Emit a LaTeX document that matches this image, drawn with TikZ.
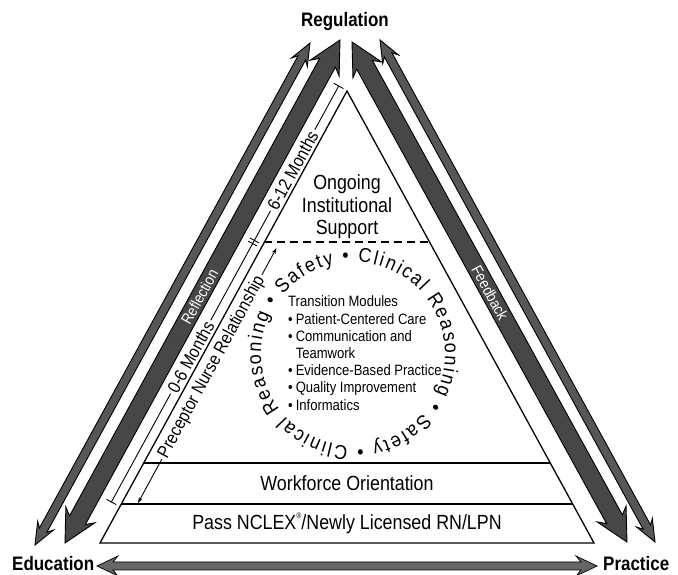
\documentclass[tikz,border=0pt]{standalone}
\usepackage{fontspec}
\setmainfont{Liberation Sans}[FakeStretch=0.87]
\newfontfamily\circfont{Liberation Sans}[FakeStretch=0.9]
\usetikzlibrary{calc,arrows.meta}
% double-headed block arrow: #1 tip, #2 tip, #3 shaft half width, #4 head half width, #5 head length, #6 joint distance, #7 style
\newcommand\DblArrow[7]{%
  \draw[#7] (#1)
    -- ($(#1)!#5!(#2)!#4!90:(#2)$)
    -- ($(#1)!#6!(#2)!#3!90:(#2)$)
    -- ($(#2)!#6!(#1)!#3!-90:(#1)$)
    -- ($(#2)!#5!(#1)!#4!-90:(#1)$)
    -- (#2)
    -- ($(#2)!#5!(#1)!#4!90:(#1)$)
    -- ($(#2)!#6!(#1)!#3!90:(#1)$)
    -- ($(#1)!#6!(#2)!#3!-90:(#2)$)
    -- ($(#1)!#5!(#2)!#4!-90:(#2)$)
    -- cycle;}
\tikzset{
  tri/.style={line width=1.3pt},
  dashline/.style={line width=1.5pt, dash pattern=on 8pt off 5pt},
  thickarr/.style={fill=black!72, draw=black, line width=0.9pt, line join=miter},
  thinarr/.style={fill=black!66, draw=black, line width=0.9pt, line join=miter},
  basearr/.style={fill=black!60, draw=black, line width=0.7pt, line join=miter},
  lbl/.style={font=\bfseries\fontsize{19.5}{20}\selectfont, inner sep=0pt},
  band/.style={font=\fontsize{20.5}{22.5}\selectfont, inner sep=0pt, align=center},
  meas/.style={line width=0.9pt},
  meastext/.style={font=\fontsize{18}{19}\selectfont, inner sep=2.5pt, sloped},
  armtext/.style={font=\fontsize{15.5}{16}\selectfont, text=white, sloped, inner sep=0pt},
  circchar/.style={font=\circfont\fontsize{20}{20}\selectfont, anchor=base, inner sep=0pt},
  listtext/.style={font=\fontsize{15}{17.2}\selectfont, inner sep=0pt, anchor=west},
}
\begin{document}
\begin{tikzpicture}[x=1pt,y=1pt]
\useasboundingbox (0,0) rectangle (678,575);
% key points
\coordinate (A) at (347,484);
\coordinate (BL) at (100,32);
\coordinate (BR) at (594,32);
\coordinate (LT1) at (35,30);   \coordinate (LT2) at (310,532);
\coordinate (LK1) at (65,32);   \coordinate (LK2) at (340,535);
\coordinate (RK1) at (352,533); \coordinate (RK2) at (627,33);
\coordinate (RT1) at (380,535); \coordinate (RT2) at (655,33);
\coordinate (B1) at (97,9);     \coordinate (B2) at (597,9);
\coordinate (M0) at (111.4,73); \coordinate (Mk) at (253.5,333); \coordinate (Mt) at (338.7,489);
\coordinate (P0) at (138,72);   \coordinate (P1) at (276.5,327);
\coordinate (cc) at (353,221);
% triangle and levels
\draw[tri] (A) -- (BR) -- (BL) -- cycle;
\draw[tri] ($(BL)!0.177!(A)$) -- ($(BR)!0.177!(A)$);
\draw[tri] ($(BL)!0.0863!(A)$) -- ($(BR)!0.0863!(A)$);
\draw[dashline] ($(BL)!0.6659!(A)$) -- ($(BR)!0.6659!(A)$);
% level texts
\node[band] (ois) at (347,368) {Ongoing\\Institutional\\Support};
\node[band, anchor=base] (wo) at (347,84) {Workforce Orientation};
\node[band, anchor=base] (nc) at (347,45) {Pass NCLEX\raisebox{0.55em}{\fontsize{8}{8}\selectfont ®}/Newly Licensed RN/LPN};
% transition modules
\node[listtext] (tm) at (288,220) {\begin{tabular}{@{}l@{\hspace{3pt}}l@{}}
\multicolumn{2}{@{}l@{}}{Transition Modules}\\
•&Patient-Centered Care\\
•&Communication and\\
&Teamwork\\
•&Evidence-Based Practice\\
•&Quality Improvement\\
•&Informatics
\end{tabular}};
% months scale
\path (M0) -- (Mk) node[meastext, pos=0.558] (m06) {0-6 Months};
\path (Mk) -- (Mt) node[meastext, pos=0.46] (m612) {6-12 Months};
\draw[meas] (M0) -- (m06.west);
\draw[meas] (m06.east) -- (Mk) -- (m612.west);
\draw[meas] (m612.east) -- (Mt);
\draw[meas] ($(M0)!5.5pt!90:(Mt)$) -- ($(M0)!5.5pt!-90:(Mt)$);
\draw[meas] ($(Mt)!5.5pt!90:(M0)$) -- ($(Mt)!5.5pt!-90:(M0)$);
\coordinate (Mka) at ($(Mk)!1.8pt!(Mt)$);
\coordinate (Mkb) at ($(Mk)!1.8pt!(M0)$);
\draw[meas] ($(Mka)!5pt!90:(Mt)$) -- ($(Mka)!5pt!-90:(Mt)$);
\draw[meas] ($(Mkb)!5pt!90:(Mt)$) -- ($(Mkb)!5pt!-90:(Mt)$);
% preceptor
\path (P0) -- (P1) node[meastext, pos=0.533] (pnr) {Preceptor Nurse Relationship};
\draw[meas, -{Stealth[length=6pt,width=4pt]}] (pnr.west) -- (P0);
\draw[meas, -{Stealth[length=6pt,width=4pt]}] (pnr.east) -- (P1);
% big arrows
\DblArrow{LT1}{LT2}{4.3pt}{9pt}{22pt}{17pt}{thinarr}
\DblArrow{LK1}{LK2}{9pt}{16.5pt}{32pt}{26pt}{thickarr}
\DblArrow{RK1}{RK2}{9pt}{16.5pt}{32pt}{26pt}{thickarr}
\DblArrow{RT1}{RT2}{4.3pt}{9pt}{22pt}{17pt}{thinarr}
\DblArrow{B1}{B2}{4pt}{10pt}{21pt}{16pt}{basearr}
\path (LK1) -- (LK2) node[armtext, pos=0.489] (refl) {Reflection};
\path (RK1) -- (RK2) node[armtext, pos=0.502] (feed) {Feedback};
% corner labels
\node[lbl, anchor=base] (reg) at (345,548.5) {Regulation};
\node[lbl, anchor=base west] (edu) at (12,4) {Education};
\node[lbl, anchor=base west] (pra) at (603,4) {Practice};
% circular text
\def\cumw{0}
\foreach \ch/\w/\ex [count=\i] in {S/66.7/0,a/55.6/0,f/27.8/0,e/55.6/0,t/27.8/0,y/50/41.1,•/35/41.1,C/72.2/0,l/22.2/0,i/22.2/0,n/55.6/0,i/22.2/0,c/50/0,a/55.6/0,l/22.2/41.1,R/72.2/0,e/55.6/0,a/55.6/0,s/50/0,o/55.6/0,n/55.6/0,i/22.2/0,n/55.6/0,g/55.6/41.1,•/35/41.1,S/66.7/0,a/55.6/0,f/27.8/0,e/55.6/0,t/27.8/0,y/50/41.1,•/35/41.1,C/72.2/0,l/22.2/0,i/22.2/0,n/55.6/0,i/22.2/0,c/50/0,a/55.6/0,l/22.2/41.1,R/72.2/0,e/55.6/0,a/55.6/0,s/50/0,o/55.6/0,n/55.6/0,i/22.2/0,n/55.6/0,g/55.6/41.1,•/35/41.1}{
  \pgfmathsetmacro\ang{140-(\cumw+\w/2+6.65)*0.10640}
  \node[circchar, rotate=\ang-90] (ch\i) at ($(cc)+(\ang:92)$) {\ch};
  \pgfmathsetmacro\nc{\cumw+\w+13.3+\ex}
  \xdef\cumw{\nc}
}
\end{tikzpicture}
\end{document}
